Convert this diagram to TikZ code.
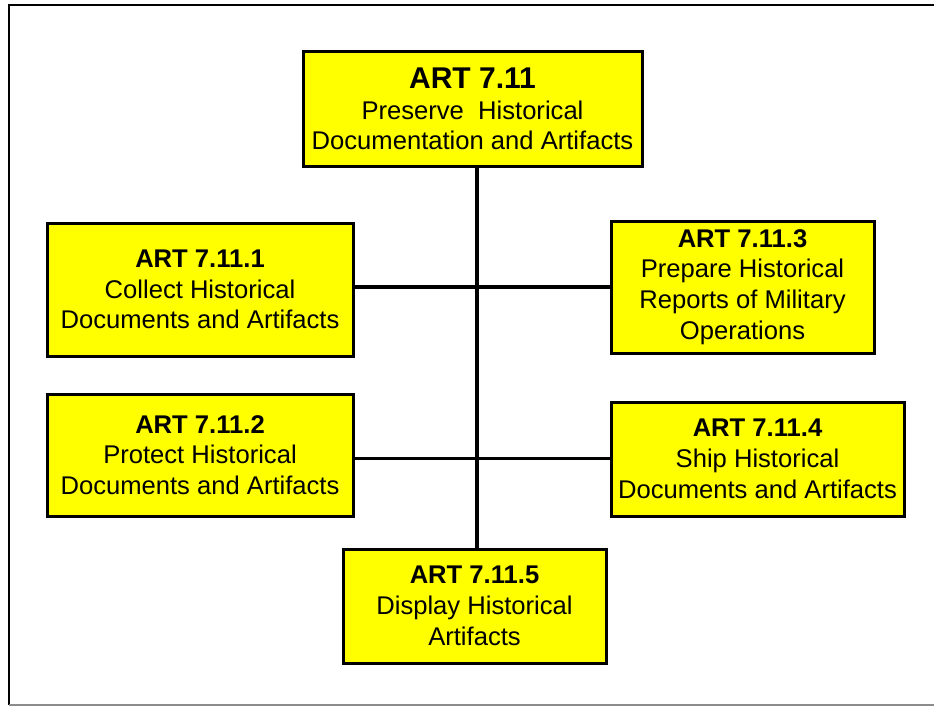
\documentclass[tikz,border=0pt]{standalone}
\usepackage{fontspec}
\setmainfont{Liberation Sans}
\definecolor{boxyellow}{HTML}{FFFF00}
\begin{document}
\begin{tikzpicture}[x=1pt,y=1pt,
  artbox/.style={draw=black, line width=3pt, fill=boxyellow, rectangle, inner sep=0pt,
    align=center, font=\fontsize{25.6}{30.7}\selectfont},
  link/.style={draw=black, line width=3.6pt}]
\useasboundingbox (0,0) rectangle (934,-706);
\draw[line width=2.5pt] (940,-5) -- (9,-5) -- (9,-705);
\draw[line width=1.5pt, black!45] (9,-705) -- (940,-705);

\node[artbox, minimum width=339, minimum height=114] (top) at (472.5,-109)
  {{\fontsize{30}{30.7}\selectfont\bfseries ART 7.11}\\Preserve~ Historical\\Documentation and Artifacts};
\node[artbox, minimum width=306, minimum height=133] (b1) at (200,-289.5)
  {\textbf{ART 7.11.1}\\Collect Historical\\Documents and Artifacts};
\node[artbox, minimum width=263, minimum height=132] (b3) at (742.5,-287)
  {\textbf{ART 7.11.3}\\Prepare Historical\\Reports of Military\\Operations};
\node[artbox, minimum width=306, minimum height=122] (b2) at (200,-455)
  {\textbf{ART 7.11.2}\\Protect Historical\\Documents and Artifacts};
\node[artbox, minimum width=293, minimum height=114] (b4) at (757.5,-459)
  {\textbf{ART 7.11.4}\\Ship Historical\\Documents and Artifacts};
\node[artbox, minimum width=263, minimum height=114] (b5) at (474.5,-606)
  {\textbf{ART 7.11.5}\\Display Historical\\Artifacts};

\coordinate (spine) at (477,-300);
\coordinate (j1) at (477,-287);
\coordinate (j2) at (477,-458.5);
\draw[link] (top.south -| spine) -- (b5.north -| spine);
\draw[link] (b1.east |- j1) -- (b3.west |- j1);
\draw[link] (b2.east |- j2) -- (b4.west |- j2);
\end{tikzpicture}
\end{document}
